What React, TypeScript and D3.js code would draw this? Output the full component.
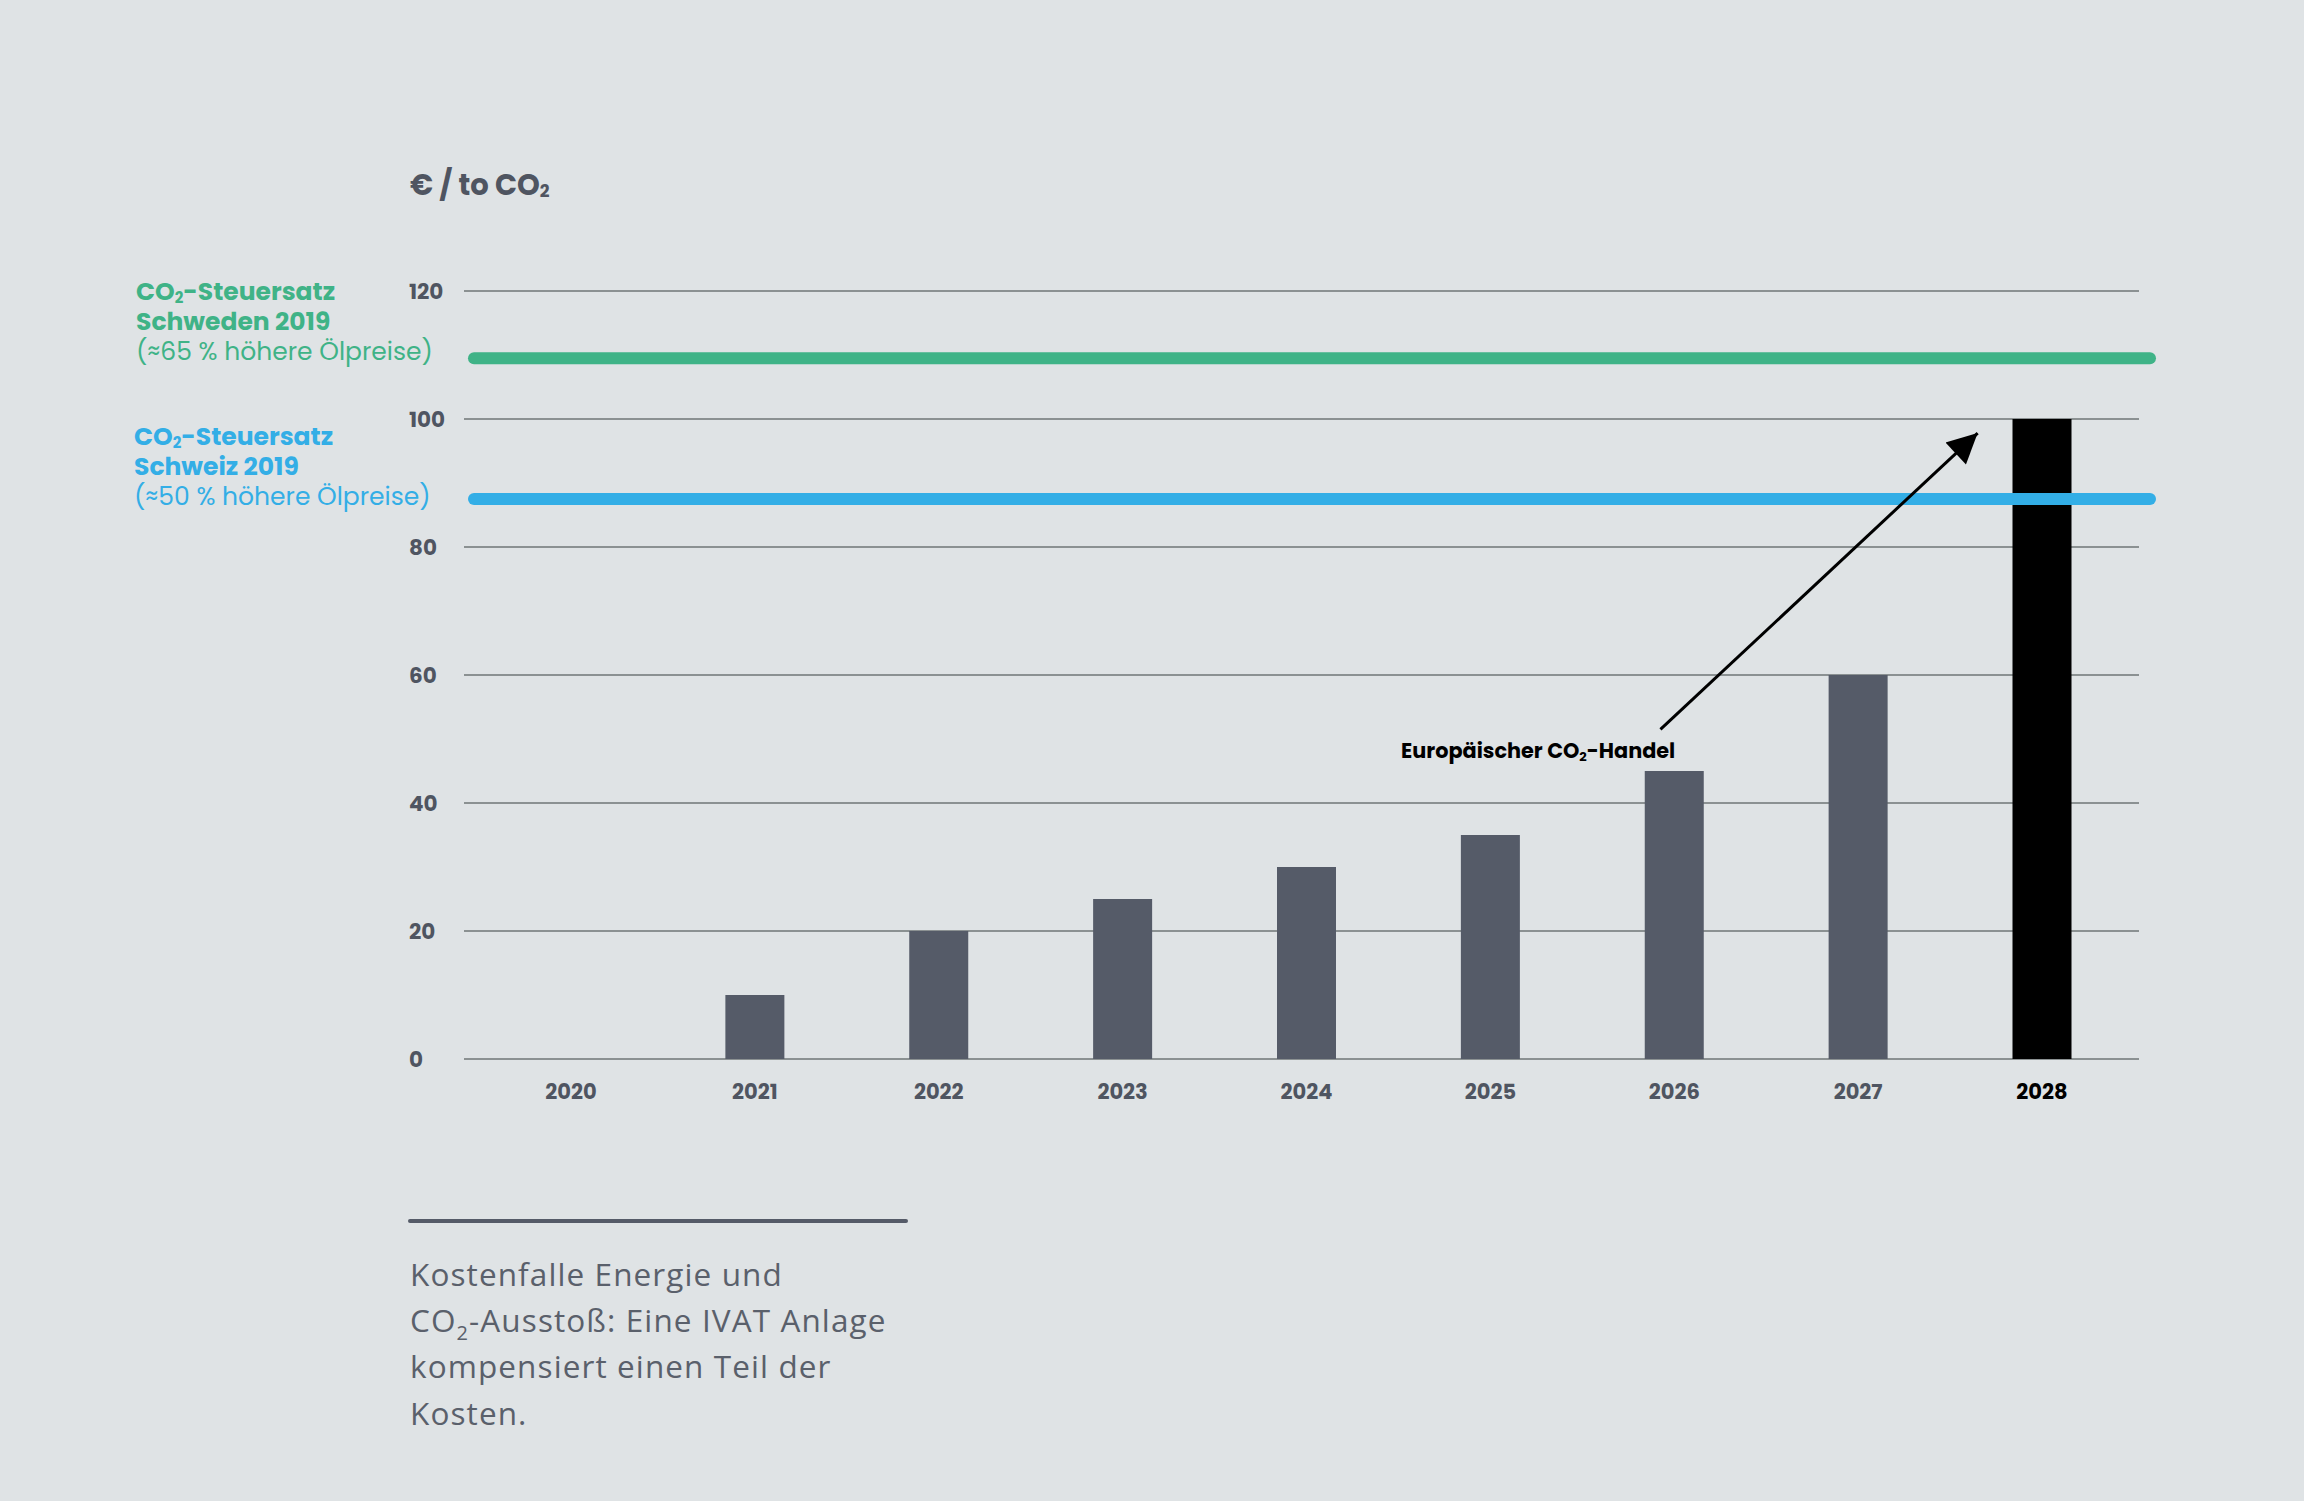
import React from 'react';
import * as d3 from 'd3';

const years = ['2020', '2021', '2022', '2023', '2024', '2025', '2026', '2027', '2028'];
const prices = [0, 10, 20, 25, 30, 35, 45, 60, 100];
const yTicks = [0, 20, 40, 60, 80, 100, 120];

// reference tax rates (€ / t CO2)
const refNames = ['Schweden 2019', 'Schweiz 2019'];
const refNotes = ['(≈65 % höhere Ölpreise)', '(≈50 % höhere Ölpreise)'];
const refValues = [109.5, 87.5];

// annotation arrow: [year, step offset, value]
const arrowFrom: [string, number, number] = ['2026', -0.075, 51.5];
const arrowTo: [string, number, number] = ['2028', -0.35, 97.8];
const arrowLabelAt: [string, number] = ['2026', 47];

const captionLines = ['Kostenfalle Energie und', 'CO|2|-Ausstoß: Eine IVAT Anlage', 'kompensiert einen Teil der', 'Kosten.'];

const W = 2304;
const H = 1501;
const bg = '#dfe3e5';
const ink = '#4f5561';
const barColor = '#555b68';
const gridColor = '#8b9192';
const refColors = ['#3fb387', '#33aee6'];
const headFont = "Poppins, Inter, 'Noto Sans', sans-serif";
const bodyFont = "'Segoe UI', 'Open Sans', 'Noto Sans', sans-serif";

const App: React.FC = () => {
  const x = d3.scalePoint<string>().domain(years).range([571, 2042]);
  const y = d3.scaleLinear().domain([0, 120]).range([1059, 291]);
  const step = x.step();
  const barW = 59;
  const gridX0 = 464;
  const gridX1 = 2139;

  const ax = (a: [string, number, number]) => (x(a[0]) as number) + a[1] * step;

  return (
    <svg width={W} height={H} style={{ position: 'absolute', left: 0, top: 0 }}>
      <defs>
        <marker id="tri" viewBox="0 0 10 10" refX="10" refY="5" markerWidth="12" markerHeight="10" orient="auto">
          <path d="M0,0 L10,5 L0,10 z" fill="#000" />
        </marker>
      </defs>
      <rect width={W} height={H} fill={bg} />

      {/* title */}
      <text x={410} y={195} fill={ink} fontFamily={headFont} fontWeight={700} fontSize={29}>
        € / to CO<tspan fontSize={17} dy={2}>2</tspan>
      </text>

      {/* grid + y ticks */}
      {yTicks.map(t => (
        <g key={t}>
          <line x1={gridX0} x2={gridX1} y1={y(t)} y2={y(t)} stroke={gridColor} strokeWidth={2} />
          <text x={409} y={y(t)} dy="0.35em" fill={ink} fontFamily={headFont} fontWeight={700} fontSize={21.5}>
            {t}
          </text>
        </g>
      ))}

      {/* bars */}
      {years.map((yr, i) => (
        <rect
          key={yr}
          x={(x(yr) as number) - barW / 2}
          y={y(prices[i])}
          width={barW}
          height={y(0) - y(prices[i])}
          fill={i === years.length - 1 ? '#000' : barColor}
        />
      ))}

      {/* x labels */}
      {years.map((yr, i) => (
        <text
          key={yr}
          x={x(yr)}
          y={1092}
          dy="0.35em"
          textAnchor="middle"
          fill={i === years.length - 1 ? '#000' : ink}
          fontFamily={headFont}
          fontWeight={700}
          fontSize={21}
        >
          {yr}
        </text>
      ))}

      {/* reference tax lines */}
      {refValues.map((v, i) => (
        <line key={i} x1={474} x2={2150} y1={y(v)} y2={y(v)} stroke={refColors[i]} strokeWidth={12} strokeLinecap="round" />
      ))}

      {/* reference labels */}
      {refNames.map((n, i) => {
        const base = i === 0 ? 300 : 445;
        const lx = i === 0 ? 136 : 134;
        return (
          <g key={n} fill={refColors[i]} fontFamily={headFont} fontSize={25}>
            <text x={lx} y={base} fontWeight={700}>
              CO<tspan fontSize={15} dy={3}>2</tspan>
              <tspan dy={-3}>-Steuersatz</tspan>
            </text>
            <text x={lx} y={base + 30} fontWeight={700}>{n}</text>
            <text x={lx} y={base + 60} fontWeight={400} fontSize={25}>{refNotes[i]}</text>
          </g>
        );
      })}

      {/* arrow annotation */}
      <line
        x1={ax(arrowFrom)}
        y1={y(arrowFrom[2])}
        x2={ax(arrowTo)}
        y2={y(arrowTo[2])}
        stroke="#000"
        strokeWidth={3}
        markerEnd="url(#tri)"
      />
      <text x={(x(arrowLabelAt[0]) as number) + 1} y={y(arrowLabelAt[1])} textAnchor="end" fill="#000" fontFamily={headFont} fontWeight={700} fontSize={20.8}>
        Europäischer CO<tspan fontSize={13} dy={3}>2</tspan>
        <tspan dy={-3}>-Handel</tspan>
      </text>

      {/* caption */}
      <line x1={410} x2={906} y1={1221} y2={1221} stroke={barColor} strokeWidth={4} strokeLinecap="round" />
      {captionLines.map((l, i) => {
        const parts = l.split('|');
        return (
          <text key={i} x={410} y={1286 + i * 46.2} fill="#5a606b" fontFamily={bodyFont} fontWeight={400} fontSize={31.5} letterSpacing={1.1}>
            {parts.length === 1 ? (
              l
            ) : (
              <>
                {parts[0]}
                <tspan fontSize={20} dy={8}>{parts[1]}</tspan>
                <tspan dy={-8}>{parts[2]}</tspan>
              </>
            )}
          </text>
        );
      })}
    </svg>
  );
};

export default App;
